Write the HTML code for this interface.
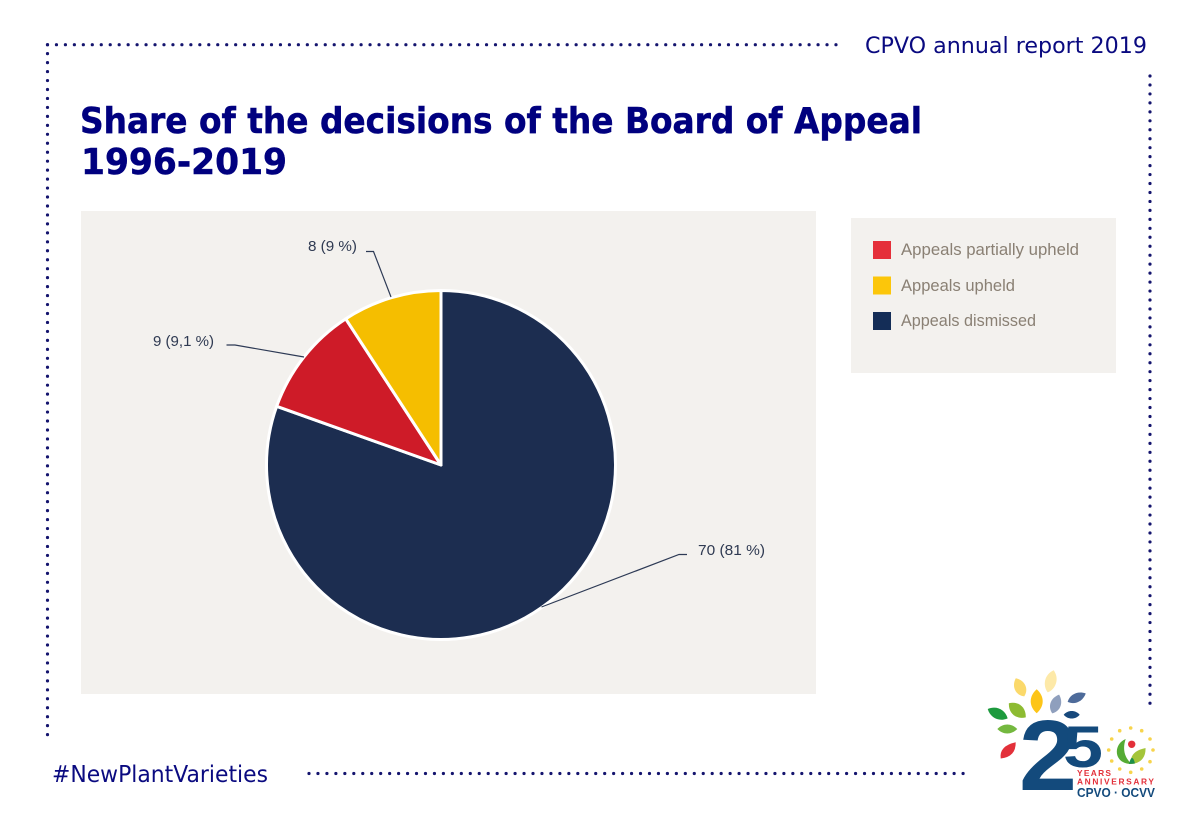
<!DOCTYPE html>
<html lang="en">
<head>
<meta charset="utf-8">
<title>Share of the decisions of the Board of Appeal 1996-2019</title>
<style>
html,body{margin:0;padding:0;background:#fff;}
svg{display:block;}
.dots{fill:none;stroke:#14146e;stroke-width:3.2;stroke-linecap:round;stroke-dasharray:0 8.96;}
.head{font-family:"DejaVu Sans",sans-serif;fill:#0a0a80;}
.title{font-family:"DejaVu Sans",sans-serif;font-weight:bold;fill:#00007f;font-size:36px;stroke:#00007f;stroke-width:0.5px;}
.lab{font-family:"Liberation Sans",sans-serif;font-size:15px;fill:#2f3a52;}
.leg{font-family:"Liberation Sans",sans-serif;font-size:17px;fill:#8a8074;}
.leader{fill:none;stroke:#2d3a55;stroke-width:1.2;}
</style>
</head>
<body>
<svg id="chart" width="1200" height="825" viewBox="0 0 1200 825" xmlns="http://www.w3.org/2000/svg">
  <rect width="1200" height="825" fill="#ffffff"/>

  <path class="dots" d="M47.5 44.7H837"/>
  <path class="dots" d="M47.5 44.7V736"/>
  <path class="dots" d="M1150 76V704.500"/>
  <path class="dots" d="M309 773.500H966"/>

  <text class="head" x="865" y="53" font-size="22" textLength="282" lengthAdjust="spacingAndGlyphs">CPVO annual report 2019</text>
  <text class="title" x="80" y="133" textLength="842" lengthAdjust="spacingAndGlyphs">Share of the decisions of the Board of Appeal</text>
  <text class="title" x="81" y="174" textLength="206" lengthAdjust="spacingAndGlyphs">1996-2019</text>

  <rect x="81" y="211" width="735" height="483" fill="#f3f1ee"/>
  <g id="slices"></g>

  <path class="leader" d="M366 251.500H373.500L391 297"/>
  <path class="leader" d="M226.500 345H235L304 357"/>
  <path class="leader" d="M541.500 607L679 554.500H687"/>
  <g id="labels"></g>

  <rect x="851" y="218" width="265" height="155" fill="#f3f1ee"/>
  <g>
    <rect x="873" y="241" width="18" height="18" fill="#e52f3a"/>
    <text class="leg" x="901" y="255" textLength="178" lengthAdjust="spacingAndGlyphs">Appeals partially upheld</text>
  </g>
  <g>
    <rect x="873" y="276.500" width="18" height="18" fill="#fcc60a"/>
    <text class="leg" x="901" y="291" textLength="114" lengthAdjust="spacingAndGlyphs">Appeals upheld</text>
  </g>
  <g>
    <rect x="873" y="312" width="18" height="18" fill="#142d57"/>
    <text class="leg" x="901" y="326" textLength="135" lengthAdjust="spacingAndGlyphs">Appeals dismissed</text>
  </g>

  <text class="head" x="52" y="782" font-size="23" textLength="216" lengthAdjust="spacingAndGlyphs">#NewPlantVarieties</text>

  <g>
    <g>
      <path d="M0 -10C8 -4 7 6 0 10C-7 6 -8 -4 0 -10Z" fill="#fbd96b" transform="translate(1020 687.300) rotate(-25)"/>
      <path d="M0 -11.500C8 -5 7 6 0 11.500C-7 6 -8 -5 0 -11.500Z" fill="#fde9a8" transform="translate(1050.700 681.300) rotate(15)"/>
      <path d="M0 -12C8 -5 8 5 0 12C-8 5 -8 -5 0 -12Z" fill="#fdc518" transform="translate(1036.700 701.300)"/>
      <path d="M0 -10C7 -4 7 5 0 10C-7 5 -7 -4 0 -10Z" fill="#8f9fbd" transform="translate(1055.700 704) rotate(20)"/>
      <path d="M0 -10C6 -4 6 5 0 10C-6 5 -6 -4 0 -10Z" fill="#4e6b9a" transform="translate(1076.700 697.700) rotate(65)"/>
      <path d="M0 -11C8 -5 8 5 0 11C-8 5 -8 -5 0 -11Z" fill="#8dbb32" transform="translate(1017.300 710.300) rotate(-50)"/>
      <path d="M0 -11C7 -5 7 5 0 11C-7 5 -7 -5 0 -11Z" fill="#1d9a3e" transform="translate(997.700 713.700) rotate(-65)"/>
      <path d="M0 -8C5 -4 5 4 0 8C-5 4 -5 -4 0 -8Z" fill="#17497c" transform="translate(1071.700 714.700) rotate(90)"/>
      <path d="M0 -10C6 -4 6 4 0 10C-6 4 -6 -4 0 -10Z" fill="#74b83f" transform="translate(1007.300 729) rotate(90)"/>
      <path d="M1000.700 758.500Q999 746 1015.700 742.300Q1016 757 1000.700 758.500Z" fill="#e3303a"/>
    </g>
    <text x="1019" y="790" font-family="Liberation Sans, sans-serif" font-weight="bold" font-size="100" fill="#134a7c" textLength="58" lengthAdjust="spacingAndGlyphs">2</text>
    <text x="1063" y="767" font-family="Liberation Sans, sans-serif" font-weight="bold" font-size="58" fill="#134a7c" textLength="40" lengthAdjust="spacingAndGlyphs">5</text>
    <text x="1077" y="776" font-family="Liberation Sans, sans-serif" font-weight="bold" font-size="8.400" fill="#e3303a" textLength="34">YEARS</text>
    <text x="1077" y="784.500" font-family="Liberation Sans, sans-serif" font-weight="bold" font-size="8.400" fill="#e3303a" textLength="77">ANNIVERSARY</text>
    <text x="1077" y="797" font-family="Liberation Sans, sans-serif" font-weight="bold" font-size="12.500" fill="#134a7c" textLength="78" lengthAdjust="spacingAndGlyphs">CPVO · OCVV</text>
    <g fill="#f7d44c">
      <circle cx="1119.700" cy="730.700" r="1.800"/><circle cx="1130.700" cy="728" r="1.800"/><circle cx="1141.700" cy="730.700" r="1.800"/>
      <circle cx="1150" cy="739" r="1.800"/><circle cx="1153" cy="750" r="1.800"/><circle cx="1150" cy="761.700" r="1.800"/>
      <circle cx="1141.700" cy="769" r="1.800"/><circle cx="1130.700" cy="772.300" r="1.800"/><circle cx="1119.700" cy="769" r="1.800"/>
      <circle cx="1111.700" cy="761" r="1.800"/><circle cx="1108.700" cy="750" r="1.800"/><circle cx="1111.700" cy="739" r="1.800"/>
    </g>
    <g>
      <path d="M1125.700 739C1113 744 1113 764 1131.700 764C1125 758 1122 750 1125.700 739Z" fill="#55ab34"/>
      <path d="M1130 764C1131 752 1138 750 1145.500 748C1146 758 1140 763 1132 764Z" fill="#a4c53a"/>
      <path d="M1129 764Q1132 752 1135 763.500Z" fill="#1d8f4a"/>
      <circle cx="1131.700" cy="744.300" r="3.700" fill="#e3303a"/>
    </g>
  </g>
</svg>
<script>
const categories = ['Appeals dismissed', 'Appeals partially upheld', 'Appeals upheld'];
const seriesValues = [70, 9, 8];
const valueLabels = ['70 (81 %)', '9 (9,1 %)', '8 (9 %)'];
const sliceColors = ['#1c2d50', '#ce1b28', '#f5be00'];

const NS = 'http://www.w3.org/2000/svg';
const cx = 441, cy = 465, radius = 174.5;
const total = seriesValues.reduce(function (a, b) { return a + b; }, 0);

function angleOf(v) { return v / total * 2 * Math.PI; }
function px(a, r) { return cx + Math.sin(a) * r; }
function py(a, r) { return cy - Math.cos(a) * r; }

const sliceGroup = document.getElementById('slices');
const labelGroup = document.getElementById('labels');
let cumulative = 0;
seriesValues.forEach(function (v, i) {
  const a0 = angleOf(cumulative);
  const a1 = angleOf(cumulative + v);
  cumulative += v;
  const large = a1 - a0 > Math.PI ? 1 : 0;
  const p = document.createElementNS(NS, 'path');
  p.setAttribute('d', 'M' + cx + ' ' + cy + 'L' + px(a0, radius) + ' ' + py(a0, radius) +
    'A' + radius + ' ' + radius + ' 0 ' + large + ' 1 ' + px(a1, radius) + ' ' + py(a1, radius) + 'Z');
  p.setAttribute('fill', sliceColors[i]);
  p.setAttribute('stroke', '#ffffff');
  p.setAttribute('stroke-width', '3');
  p.setAttribute('stroke-linejoin', 'round');
  
  
  const t = document.createElementNS(NS, 'title');
  t.textContent = categories[i] + ': ' + valueLabels[i];
  p.appendChild(t);
  sliceGroup.appendChild(p);
});

const labelAnchors = [[698, 555, 67], [153, 346, 61], [308, 251, 49]];
valueLabels.forEach(function (text, i) {
  const el = document.createElementNS(NS, 'text');
  el.setAttribute('class', 'lab');
  el.setAttribute('x', labelAnchors[i][0]);
  el.setAttribute('y', labelAnchors[i][1]);
  el.setAttribute('textLength', labelAnchors[i][2]);
  el.setAttribute('lengthAdjust', 'spacingAndGlyphs');
  
  
  el.textContent = text;
  labelGroup.appendChild(el);
});
</script>
</body>
</html>
